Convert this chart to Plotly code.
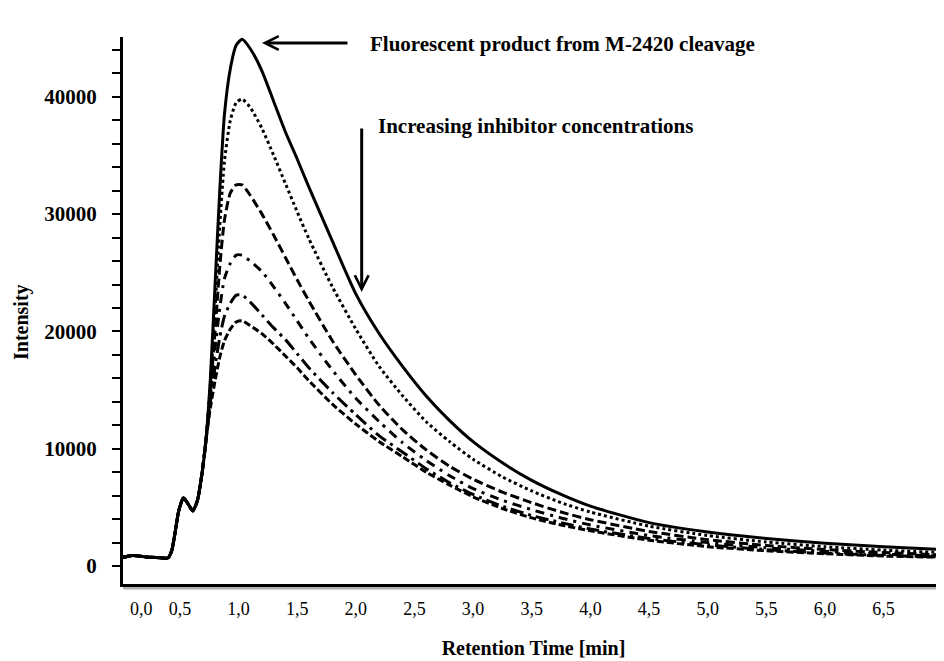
import plotly.graph_objects as go

# Retention time grid [min]
time_min = [0.0, 0.1, 0.2, 0.3, 0.4, 0.43, 0.46, 0.49, 0.53, 0.57,
            0.61, 0.65, 0.69, 0.72, 0.76, 0.8, 0.84, 0.88, 0.93, 0.98,
            1.03, 1.1, 1.2, 1.3, 1.4, 1.5, 1.6, 1.8, 2.0, 2.2,
            2.4, 2.6, 2.8, 3.0, 3.25, 3.5, 3.75, 4.0, 4.5, 5.0,
            5.5, 6.0, 6.5, 7.0]

# common baseline + shoulder part (first 14 points)
rise_common = [700, 900, 780, 720, 700, 1300, 2900, 4700, 5800, 5300,
               4700, 5600, 8000, 10500]

no_inhibitor = rise_common + [16000, 24000, 32000, 38500, 42400, 44400, 44900, 44100, 42200, 39600,
                              37000, 34700, 32300, 27700, 23200, 19800, 17000, 14500, 12400, 10600,
                              8800, 7300, 6100, 5100, 3700, 2900, 2350, 1950, 1650, 1400]
inhibitor_1 = rise_common + [15500, 22000, 29000, 34500, 38000, 39500, 39800, 39100, 37300, 35000,
                             32600, 30200, 27900, 23800, 20200, 17000, 14500, 12300, 10600, 9100,
                             7600, 6400, 5400, 4600, 3400, 2600, 2050, 1650, 1350, 1150]
inhibitor_2 = rise_common + [15000, 20000, 25500, 29500, 31800, 32500, 32500, 31600, 30000, 28200,
                             26300, 24400, 22600, 19200, 16300, 13700, 11600, 9900, 8500, 7400,
                             6300, 5400, 4600, 3950, 2950, 2250, 1750, 1400, 1150, 950]
inhibitor_3 = rise_common + [14500, 18500, 22000, 24500, 25800, 26500, 26500, 26000, 25100, 23800,
                             22400, 20900, 19400, 16700, 14300, 12300, 10500, 9000, 7700, 6600,
                             5600, 4800, 4100, 3500, 2600, 2000, 1550, 1250, 1000, 850]
inhibitor_4 = rise_common + [14000, 17000, 19500, 21300, 22400, 23100, 23100, 22500, 21400, 20300,
                             19300, 18100, 16900, 14800, 12900, 11100, 9700, 8300, 7100, 6100,
                             5100, 4300, 3700, 3150, 2350, 1800, 1400, 1100, 900, 780]
inhibitor_5 = rise_common + [13500, 15800, 17800, 19200, 20200, 20800, 20900, 20500, 19800, 18900,
                             17900, 16900, 15800, 13800, 12100, 10600, 9300, 8000, 6900, 5900,
                             4900, 4100, 3500, 3000, 2200, 1650, 1300, 1050, 850, 750]

series_names = ["0", "c1", "c2", "c3", "c4", "c5"]
series_values = [no_inhibitor, inhibitor_1, inhibitor_2, inhibitor_3, inhibitor_4, inhibitor_5]
series_dash = ["solid", "dot", "9px,4px", "9px,6px,3px,6px", "13px,5px,3px,5px", "7px,3px"]

x_tick_labels = ["0,0", "0,5", "1,0", "1,5", "2,0", "2,5", "3,0", "3,5",
                 "4,0", "4,5", "5,0", "5,5", "6,0", "6,5"]
x_tick_vals = [0.17, 0.5, 1.0, 1.5, 2.0, 2.5, 3.0, 3.5, 4.0, 4.5, 5.0, 5.5, 6.0, 6.5]
y_tick_vals = [0, 10000, 20000, 30000, 40000]

SERIF = "Liberation Serif, Times New Roman, serif"

fig = go.Figure()
for name, vals, dash in zip(series_names, series_values, series_dash):
    fig.add_trace(go.Scatter(
        x=time_min, y=vals, mode="lines", name=name,
        line=dict(color="black", width=3, dash=dash, shape="spline", smoothing=0.6),
        showlegend=False, hoverinfo="skip"))

fig.update_layout(
    width=936, height=653,
    margin=dict(l=115, r=0, t=29, b=77, autoexpand=False),
    plot_bgcolor="white", paper_bgcolor="white",
    font=dict(family=SERIF, color="black"),
)

fig.update_xaxes(
    range=[0.015, 7.015], showgrid=False, zeroline=False, automargin=False,
    showline=True, linecolor="black", linewidth=3,
    tickmode="array", tickvals=x_tick_vals, ticktext=x_tick_labels,
    ticks="outside", ticklen=6, tickcolor="rgba(0,0,0,0)",
    tickfont=dict(family=SERIF, size=18, color="black"),
    title=dict(text="<b>Retention Time [min]</b>", font=dict(family=SERIF, size=20), standoff=24),
)

fig.update_yaxes(
    range=[-1533, 45100], showgrid=False, zeroline=False, automargin=False,
    showline=True, linecolor="black", linewidth=3,
    tickmode="array", tickvals=y_tick_vals, tickformat="d",
    ticks="outside", ticklen=8, tickwidth=2, tickcolor="black",
    ticklabelstandoff=11,
    minor=dict(dtick=2000, tick0=0, ticks="outside", ticklen=8, tickwidth=2,
               tickcolor="black", showgrid=False),
    tickfont=dict(family=SERIF, size=21, color="black", weight="bold"),
)

# soft shadow of the x axis
fig.add_shape(type="line", xref="paper", yref="paper", ysizemode="pixel", yanchor=0,
              x0=0, x1=1, y0=-4, y1=-4, line=dict(color="#b0b0b0", width=3), layer="below")

# y-axis title
fig.add_annotation(
    text="<b>Intensity</b>", textangle=-90, showarrow=False,
    xref="paper", yref="paper", x=0, y=0.479, xanchor="center", yanchor="middle",
    xshift=-101, font=dict(family=SERIF, size=20, color="black"))

# arrow to main peak
fig.add_annotation(
    x=1.2, y=44590, xref="x", yref="y", ax=87, ay=0, axref="pixel", ayref="pixel",
    text="", showarrow=True, arrowhead=5, arrowsize=0.9, arrowwidth=3, arrowcolor="black")
fig.add_annotation(
    x=2.10, y=44500, xref="x", yref="y", xanchor="left", yanchor="middle",
    text="<b>Fluorescent product from M-2420 cleavage</b>", showarrow=False,
    font=dict(family=SERIF, size=21, color="black"))

# downward arrow
fig.add_annotation(
    x=2.05, y=23360, xref="x", yref="y", ax=0, ay=-165, axref="pixel", ayref="pixel",
    text="", showarrow=True, arrowhead=5, arrowsize=0.9, arrowwidth=3, arrowcolor="black")
fig.add_annotation(
    x=2.17, y=37510, xref="x", yref="y", xanchor="left", yanchor="middle",
    text="<b>Increasing inhibitor concentrations</b>", showarrow=False,
    font=dict(family=SERIF, size=21, color="black"))

fig.write_html("out.html")
